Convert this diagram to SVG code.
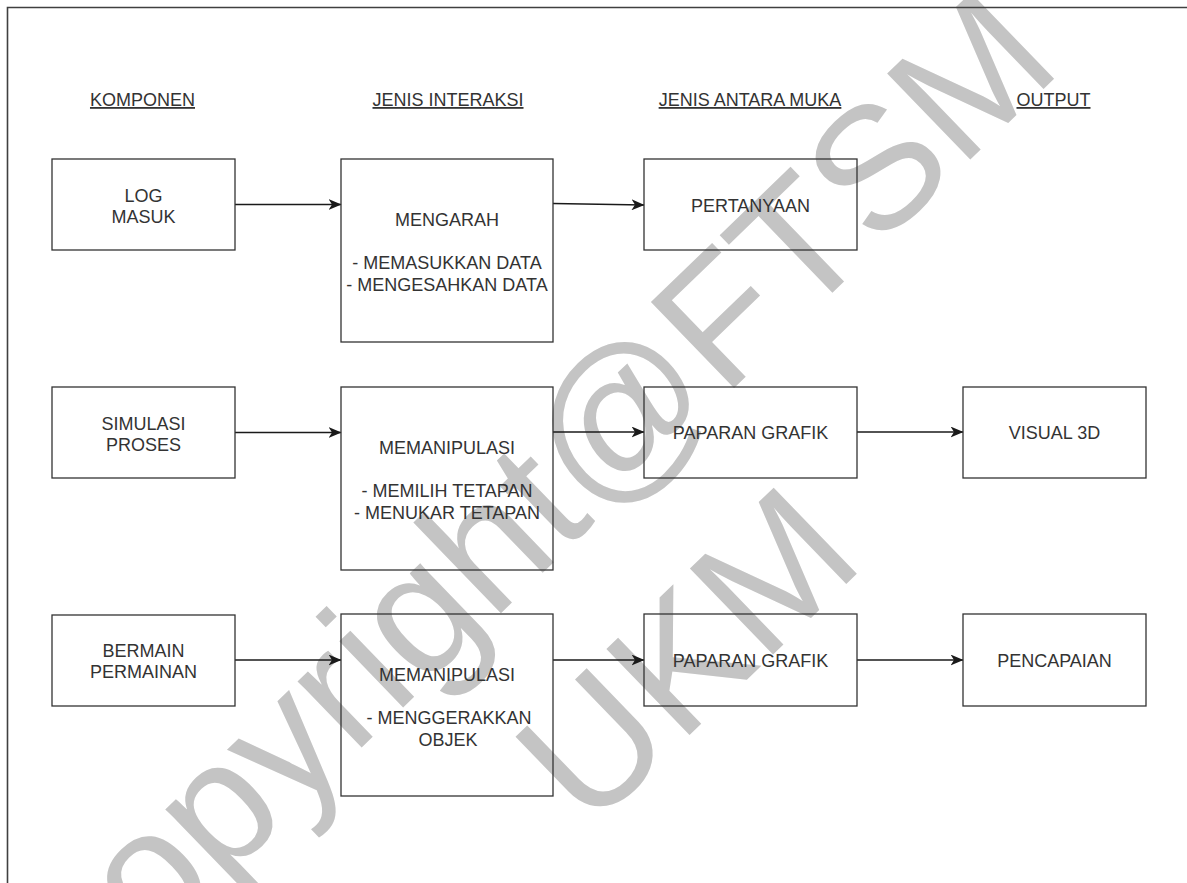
<svg xmlns="http://www.w3.org/2000/svg" width="1187" height="883" viewBox="0 0 1187 883">
<style>
.box{fill:none;stroke:#333333;stroke-width:1.3}
.t{font-family:"Liberation Sans",Arial,sans-serif;font-size:18px;fill:#333333;text-anchor:middle}
.h{text-decoration:underline}
.edge{fill:none;stroke:#1a1a1a;stroke-width:1.3}
.wm{font-family:"Liberation Sans",Arial,sans-serif;font-size:174px;fill:#c4c4c4;text-anchor:middle}
</style>
<defs>
<marker id="arr" viewBox="0 0 13 11" refX="12.5" refY="5.5" markerWidth="13" markerHeight="11" markerUnits="userSpaceOnUse" orient="auto">
<path d="M0,0 L13,5.5 L0,11 L3.5,5.5 Z" fill="#1a1a1a"/>
</marker>
</defs>
<rect width="1187" height="883" fill="#ffffff"/>
<g id="watermark">
<text class="wm" x="576.5" y="540" transform="rotate(-44 576.5 540)">copyright@FTSM</text>
<text class="wm" x="728" y="698" transform="rotate(-44 728 698)">UKM</text>
</g>
<path d="M1187,7.5 H7.5 V883" fill="none" stroke="#404040" stroke-width="1.6"/>
<g id="headers">
<text class="t h" x="142.5" y="106">KOMPONEN</text>
<text class="t h" x="448" y="106">JENIS INTERAKSI</text>
<text class="t h" x="750" y="106">JENIS ANTARA MUKA</text>
<text class="t h" x="1053.5" y="106">OUTPUT</text>
</g>
<g id="connectors">
<path class="edge" d="M235,204.5 L341,204.5" marker-end="url(#arr)"/>
<path class="edge" d="M553,203.5 L644,205" marker-end="url(#arr)"/>
<path class="edge" d="M235,432.5 L341,432.5" marker-end="url(#arr)"/>
<path class="edge" d="M553,432 L644,432" marker-end="url(#arr)"/>
<path class="edge" d="M857,432 L963,432" marker-end="url(#arr)"/>
<path class="edge" d="M235,660 L341,660" marker-end="url(#arr)"/>
<path class="edge" d="M553,660 L644,660" marker-end="url(#arr)"/>
<path class="edge" d="M857,660 L963,660" marker-end="url(#arr)"/>
</g>
<g id="log-masuk">
<rect class="box" x="52" y="159" width="183" height="91"/>
<text class="t" x="143.5" y="202">LOG</text>
<text class="t" x="143.5" y="223">MASUK</text>
</g>
<g id="mengarah">
<rect class="box" x="341" y="159" width="212" height="183"/>
<text class="t" x="447" y="226">MENGARAH</text>
<text class="t" x="447" y="269">- MEMASUKKAN DATA</text>
<text class="t" x="447" y="290.5">- MENGESAHKAN DATA</text>
</g>
<g id="pertanyaan">
<rect class="box" x="644" y="159" width="213" height="91"/>
<text class="t" x="750.5" y="211.5">PERTANYAAN</text>
</g>
<g id="simulasi-proses">
<rect class="box" x="52" y="387" width="183" height="91"/>
<text class="t" x="143.5" y="430">SIMULASI</text>
<text class="t" x="143.5" y="451">PROSES</text>
</g>
<g id="memanipulasi-1">
<rect class="box" x="341" y="387" width="212" height="183"/>
<text class="t" x="447" y="454">MEMANIPULASI</text>
<text class="t" x="447" y="497">- MEMILIH TETAPAN</text>
<text class="t" x="447" y="518.5">- MENUKAR TETAPAN</text>
</g>
<g id="paparan-grafik-1">
<rect class="box" x="644" y="387" width="213" height="91"/>
<text class="t" x="750.5" y="439">PAPARAN GRAFIK</text>
</g>
<g id="visual-3d">
<rect class="box" x="963" y="387" width="183" height="91"/>
<text class="t" x="1054.5" y="439">VISUAL 3D</text>
</g>
<g id="bermain-permainan">
<rect class="box" x="52" y="615" width="183" height="91"/>
<text class="t" x="143.5" y="657">BERMAIN</text>
<text class="t" x="143.5" y="678">PERMAINAN</text>
</g>
<g id="memanipulasi-2">
<rect class="box" x="341" y="614" width="212" height="182"/>
<text class="t" x="447" y="681">MEMANIPULASI</text>
<text class="t" x="449" y="724">- MENGGERAKKAN</text>
<text class="t" x="448" y="745.5">OBJEK</text>
</g>
<g id="paparan-grafik-2">
<rect class="box" x="644" y="614" width="213" height="92"/>
<text class="t" x="750.5" y="666.5">PAPARAN GRAFIK</text>
</g>
<g id="pencapaian">
<rect class="box" x="963" y="614" width="183" height="92"/>
<text class="t" x="1054.5" y="666.5">PENCAPAIAN</text>
</g>
</svg>
